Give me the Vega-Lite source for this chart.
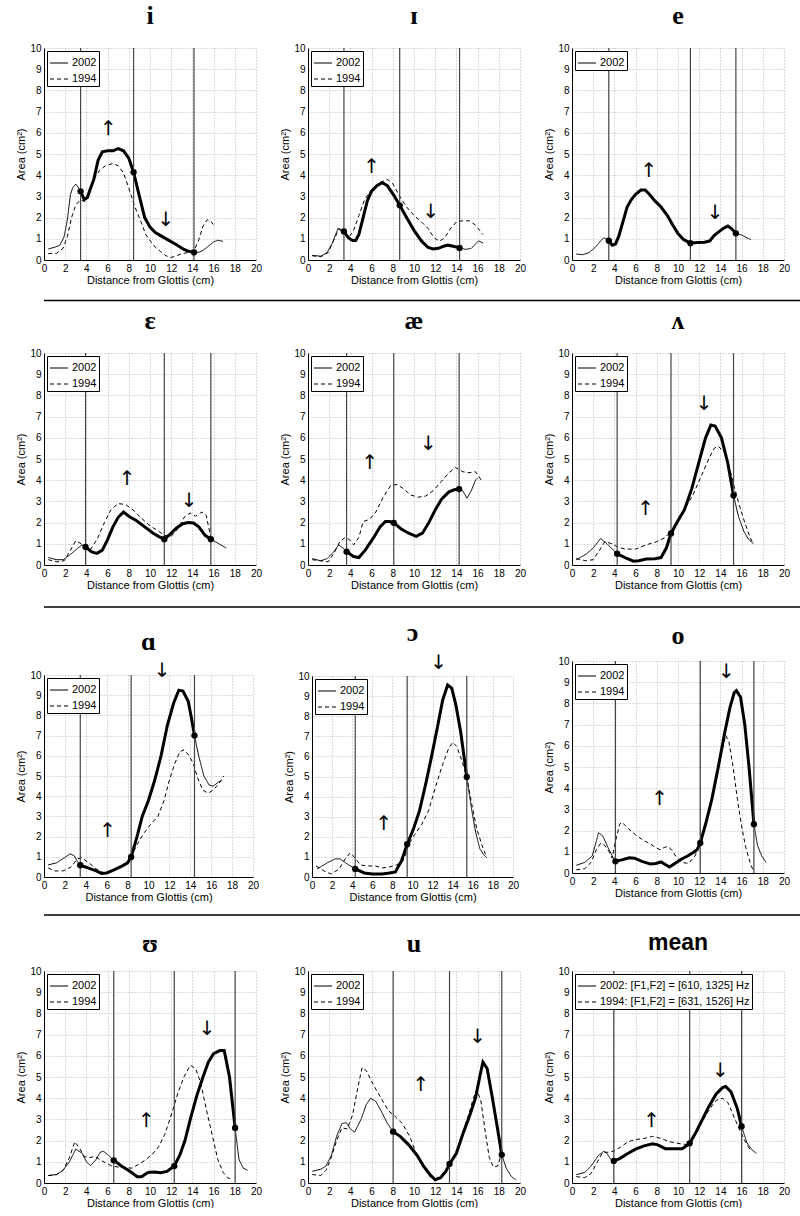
{
"$schema":"https://vega.github.io/schema/vega-lite/v6.json",
"background":"white",
"padding":{"left":15,"top":3,"right":0,"bottom":0},
"config":{
 "font":"Liberation Sans",
 "view":{"stroke":null},
 "axis":{"labelFont":"Liberation Sans","labelFontSize":10,"labelColor":"black","titleFont":"Liberation Sans","titleFontSize":11,"titleFontWeight":"normal","titleColor":"black","domainColor":"black","domainWidth":1,"ticks":false,"labelPadding":3,"labelFlush":false,"gridColor":"#999","gridDash":[1,2],"gridWidth":0.7,"gridOpacity":1},
 "axisX":{"titlePadding":1},
 "axisY":{"titlePadding":3},
 "legend":{"orient":"top-left","offset":3,"fillColor":"white","strokeColor":"black","padding":2,"labelFontSize":11,"labelFont":"Liberation Sans","labelColor":"black","symbolType":"stroke","symbolSize":324,"symbolStrokeWidth":1.2,"symbolStrokeColor":"black","rowPadding":1,"labelOffset":3},
 "title":{"font":"Liberation Serif, DejaVu Serif","fontSize":26,"fontWeight":"bold","frame":"group","anchor":"middle","offset":14,"color":"black"},
 "text":{"font":"DejaVu Sans","fontSize":20,"color":"black","opacity":0.99}
},
"datasets":{
"i":[
{"s":"2002","x":0.4,"a":0.52},{"s":"2002","x":1.0,"a":0.6},{"s":"2002","x":1.5,"a":0.7},{"s":"2002","x":1.9,"a":1.1},{"s":"2002","x":2.2,"a":1.9},{"s":"2002","x":2.5,"a":3.1},{"s":"2002","x":2.7,"a":3.4},{"s":"2002","x":3.0,"a":3.58},{"s":"2002","x":3.2,"a":3.45},{"s":"2002","x":3.45,"a":3.24},{"s":"2002","x":3.8,"a":2.85},{"s":"2002","x":4.1,"a":2.95},{"s":"2002","x":4.3,"a":3.25},{"s":"2002","x":4.7,"a":3.8},{"s":"2002","x":5.1,"a":4.7},{"s":"2002","x":5.5,"a":5.1},{"s":"2002","x":6.0,"a":5.15},{"s":"2002","x":6.5,"a":5.15},{"s":"2002","x":7.0,"a":5.25},{"s":"2002","x":7.5,"a":5.15},{"s":"2002","x":8.0,"a":4.8},{"s":"2002","x":8.45,"a":4.14},{"s":"2002","x":9.0,"a":3.0},{"s":"2002","x":9.5,"a":2.0},{"s":"2002","x":10.0,"a":1.55},{"s":"2002","x":10.5,"a":1.3},{"s":"2002","x":11.0,"a":1.15},{"s":"2002","x":11.7,"a":0.95},{"s":"2002","x":12.5,"a":0.72},{"s":"2002","x":13.2,"a":0.5},{"s":"2002","x":13.6,"a":0.42},{"s":"2002","x":14.15,"a":0.36},{"s":"2002","x":14.6,"a":0.36},{"s":"2002","x":15.0,"a":0.45},{"s":"2002","x":15.5,"a":0.65},{"s":"2002","x":16.0,"a":0.85},{"s":"2002","x":16.4,"a":0.93},{"s":"2002","x":16.9,"a":0.88},
{"s":"1994","x":0.4,"a":0.3},{"s":"1994","x":1.2,"a":0.32},{"s":"1994","x":1.8,"a":0.55},{"s":"1994","x":2.2,"a":1.1},{"s":"1994","x":2.6,"a":2.0},{"s":"1994","x":3.0,"a":2.6},{"s":"1994","x":3.45,"a":2.85},{"s":"1994","x":3.8,"a":2.75},{"s":"1994","x":4.2,"a":3.2},{"s":"1994","x":4.7,"a":3.8},{"s":"1994","x":5.2,"a":4.2},{"s":"1994","x":5.8,"a":4.45},{"s":"1994","x":6.5,"a":4.55},{"s":"1994","x":7.0,"a":4.45},{"s":"1994","x":7.5,"a":4.1},{"s":"1994","x":8.0,"a":3.4},{"s":"1994","x":8.5,"a":2.6},{"s":"1994","x":9.15,"a":1.8},{"s":"1994","x":9.6,"a":1.2},{"s":"1994","x":10.1,"a":0.85},{"s":"1994","x":10.5,"a":0.6},{"s":"1994","x":11.0,"a":0.4},{"s":"1994","x":11.5,"a":0.2},{"s":"1994","x":12.0,"a":0.12},{"s":"1994","x":12.5,"a":0.2},{"s":"1994","x":13.0,"a":0.3},{"s":"1994","x":13.6,"a":0.35},{"s":"1994","x":14.15,"a":0.42},{"s":"1994","x":14.6,"a":0.95},{"s":"1994","x":15.0,"a":1.6},{"s":"1994","x":15.4,"a":1.9},{"s":"1994","x":15.7,"a":1.85},{"s":"1994","x":16.1,"a":1.6},
{"s":"v","x":3.45,"a":3.24},{"s":"v","x":8.45,"a":4.14},{"s":"v","x":14.15,"a":0.36},
{"s":"t","x":6.08,"a":6.2,"t":"↑"},{"s":"t","x":11.5,"a":1.9,"t":"↓"}
],
"I":[
{"s":"2002","x":0.4,"a":0.22},{"s":"2002","x":1.2,"a":0.18},{"s":"2002","x":1.8,"a":0.35},{"s":"2002","x":2.3,"a":0.8},{"s":"2002","x":2.6,"a":1.2},{"s":"2002","x":2.85,"a":1.5},{"s":"2002","x":3.1,"a":1.45},{"s":"2002","x":3.39,"a":1.35},{"s":"2002","x":3.8,"a":1.05},{"s":"2002","x":4.2,"a":0.92},{"s":"2002","x":4.5,"a":0.92},{"s":"2002","x":4.8,"a":1.2},{"s":"2002","x":5.2,"a":2.0},{"s":"2002","x":5.6,"a":2.8},{"s":"2002","x":6.0,"a":3.25},{"s":"2002","x":6.5,"a":3.5},{"s":"2002","x":7.0,"a":3.65},{"s":"2002","x":7.5,"a":3.5},{"s":"2002","x":8.1,"a":3.05},{"s":"2002","x":8.65,"a":2.58},{"s":"2002","x":9.3,"a":2.0},{"s":"2002","x":10.0,"a":1.4},{"s":"2002","x":10.7,"a":0.9},{"s":"2002","x":11.3,"a":0.6},{"s":"2002","x":11.8,"a":0.52},{"s":"2002","x":12.3,"a":0.55},{"s":"2002","x":12.8,"a":0.65},{"s":"2002","x":13.2,"a":0.7},{"s":"2002","x":13.7,"a":0.65},{"s":"2002","x":14.3,"a":0.57},{"s":"2002","x":14.9,"a":0.5},{"s":"2002","x":15.4,"a":0.55},{"s":"2002","x":15.8,"a":0.75},{"s":"2002","x":16.1,"a":0.9},{"s":"2002","x":16.5,"a":0.8},
{"s":"1994","x":0.4,"a":0.2},{"s":"1994","x":1.2,"a":0.15},{"s":"1994","x":1.9,"a":0.35},{"s":"1994","x":2.4,"a":0.9},{"s":"1994","x":2.9,"a":1.45},{"s":"1994","x":3.39,"a":1.3},{"s":"1994","x":3.9,"a":1.1},{"s":"1994","x":4.3,"a":1.4},{"s":"1994","x":4.8,"a":2.1},{"s":"1994","x":5.3,"a":2.8},{"s":"1994","x":5.9,"a":3.25},{"s":"1994","x":6.5,"a":3.55},{"s":"1994","x":7.0,"a":3.7},{"s":"1994","x":7.5,"a":3.8},{"s":"1994","x":8.0,"a":3.6},{"s":"1994","x":8.65,"a":3.0},{"s":"1994","x":9.3,"a":2.5},{"s":"1994","x":10.0,"a":2.1},{"s":"1994","x":10.7,"a":1.8},{"s":"1994","x":11.3,"a":1.5},{"s":"1994","x":11.9,"a":1.05},{"s":"1994","x":12.4,"a":0.88},{"s":"1994","x":12.9,"a":1.05},{"s":"1994","x":13.4,"a":1.45},{"s":"1994","x":14.0,"a":1.8},{"s":"1994","x":14.6,"a":1.85},{"s":"1994","x":15.2,"a":1.85},{"s":"1994","x":15.8,"a":1.65},{"s":"1994","x":16.5,"a":1.2},
{"s":"v","x":3.39,"a":1.35},{"s":"v","x":8.65,"a":2.58},{"s":"v","x":14.3,"a":0.57},
{"s":"t","x":6.0,"a":4.4,"t":"↑"},{"s":"t","x":11.6,"a":2.25,"t":"↓"}
],
"e":[
{"s":"2002","x":0.4,"a":0.28},{"s":"2002","x":1.0,"a":0.25},{"s":"2002","x":1.6,"a":0.35},{"s":"2002","x":2.2,"a":0.6},{"s":"2002","x":2.7,"a":0.9},{"s":"2002","x":3.0,"a":1.05},{"s":"2002","x":3.2,"a":1.0},{"s":"2002","x":3.47,"a":0.91},{"s":"2002","x":3.8,"a":0.7},{"s":"2002","x":4.1,"a":0.75},{"s":"2002","x":4.4,"a":1.1},{"s":"2002","x":4.8,"a":1.8},{"s":"2002","x":5.2,"a":2.5},{"s":"2002","x":5.6,"a":2.85},{"s":"2002","x":6.0,"a":3.1},{"s":"2002","x":6.5,"a":3.3},{"s":"2002","x":6.9,"a":3.3},{"s":"2002","x":7.3,"a":3.1},{"s":"2002","x":7.8,"a":2.8},{"s":"2002","x":8.4,"a":2.5},{"s":"2002","x":9.0,"a":2.1},{"s":"2002","x":9.5,"a":1.65},{"s":"2002","x":10.0,"a":1.25},{"s":"2002","x":10.5,"a":0.98},{"s":"2002","x":11.17,"a":0.79},{"s":"2002","x":11.8,"a":0.82},{"s":"2002","x":12.5,"a":0.84},{"s":"2002","x":13.0,"a":0.9},{"s":"2002","x":13.4,"a":1.15},{"s":"2002","x":13.9,"a":1.35},{"s":"2002","x":14.3,"a":1.5},{"s":"2002","x":14.7,"a":1.6},{"s":"2002","x":15.0,"a":1.5},{"s":"2002","x":15.46,"a":1.26},{"s":"2002","x":16.0,"a":1.18},{"s":"2002","x":16.5,"a":1.05},{"s":"2002","x":16.9,"a":0.95},
{"s":"v","x":3.47,"a":0.91},{"s":"v","x":11.17,"a":0.79},{"s":"v","x":15.46,"a":1.26},
{"s":"t","x":7.25,"a":4.2,"t":"↑"},{"s":"t","x":13.5,"a":2.2,"t":"↓"}
],
"E":[
{"s":"2002","x":0.4,"a":0.35},{"s":"2002","x":1.2,"a":0.25},{"s":"2002","x":1.8,"a":0.25},{"s":"2002","x":2.5,"a":0.5},{"s":"2002","x":3.2,"a":0.8},{"s":"2002","x":3.6,"a":0.95},{"s":"2002","x":3.92,"a":0.85},{"s":"2002","x":4.5,"a":0.62},{"s":"2002","x":5.0,"a":0.55},{"s":"2002","x":5.5,"a":0.7},{"s":"2002","x":6.0,"a":1.2},{"s":"2002","x":6.5,"a":1.8},{"s":"2002","x":7.0,"a":2.25},{"s":"2002","x":7.5,"a":2.5},{"s":"2002","x":8.0,"a":2.3},{"s":"2002","x":8.7,"a":2.1},{"s":"2002","x":9.5,"a":1.8},{"s":"2002","x":10.3,"a":1.5},{"s":"2002","x":10.8,"a":1.35},{"s":"2002","x":11.35,"a":1.22},{"s":"2002","x":11.9,"a":1.45},{"s":"2002","x":12.5,"a":1.75},{"s":"2002","x":13.1,"a":1.95},{"s":"2002","x":13.6,"a":2.0},{"s":"2002","x":14.1,"a":1.98},{"s":"2002","x":14.6,"a":1.8},{"s":"2002","x":15.2,"a":1.4},{"s":"2002","x":15.74,"a":1.22},{"s":"2002","x":16.5,"a":1.0},{"s":"2002","x":17.2,"a":0.8},
{"s":"1994","x":0.4,"a":0.25},{"s":"1994","x":1.2,"a":0.15},{"s":"1994","x":1.9,"a":0.2},{"s":"1994","x":2.5,"a":0.7},{"s":"1994","x":3.0,"a":1.15},{"s":"1994","x":3.5,"a":1.0},{"s":"1994","x":3.92,"a":0.8},{"s":"1994","x":4.4,"a":0.75},{"s":"1994","x":5.0,"a":1.2},{"s":"1994","x":5.7,"a":2.0},{"s":"1994","x":6.3,"a":2.6},{"s":"1994","x":7.0,"a":2.9},{"s":"1994","x":7.7,"a":2.85},{"s":"1994","x":8.4,"a":2.6},{"s":"1994","x":9.2,"a":2.2},{"s":"1994","x":10.0,"a":1.85},{"s":"1994","x":10.8,"a":1.6},{"s":"1994","x":11.35,"a":1.4},{"s":"1994","x":12.0,"a":1.35},{"s":"1994","x":12.6,"a":1.7},{"s":"1994","x":13.3,"a":2.3},{"s":"1994","x":13.8,"a":2.45},{"s":"1994","x":14.3,"a":2.3},{"s":"1994","x":14.9,"a":2.5},{"s":"1994","x":15.3,"a":2.35},{"s":"1994","x":15.74,"a":1.3},
{"s":"v","x":3.92,"a":0.85},{"s":"v","x":11.35,"a":1.22},{"s":"v","x":15.74,"a":1.22},
{"s":"t","x":7.84,"a":4.07,"t":"↑"},{"s":"t","x":13.7,"a":3.0,"t":"↓"}
],
"ae":[
{"s":"2002","x":0.4,"a":0.3},{"s":"2002","x":1.2,"a":0.2},{"s":"2002","x":1.8,"a":0.3},{"s":"2002","x":2.4,"a":0.6},{"s":"2002","x":2.9,"a":0.95},{"s":"2002","x":3.3,"a":0.8},{"s":"2002","x":3.64,"a":0.63},{"s":"2002","x":4.3,"a":0.4},{"s":"2002","x":4.8,"a":0.35},{"s":"2002","x":5.4,"a":0.7},{"s":"2002","x":6.2,"a":1.3},{"s":"2002","x":6.8,"a":1.8},{"s":"2002","x":7.3,"a":2.05},{"s":"2002","x":7.7,"a":2.05},{"s":"2002","x":8.09,"a":1.99},{"s":"2002","x":8.8,"a":1.7},{"s":"2002","x":9.5,"a":1.5},{"s":"2002","x":10.2,"a":1.35},{"s":"2002","x":10.8,"a":1.5},{"s":"2002","x":11.4,"a":2.0},{"s":"2002","x":12.0,"a":2.6},{"s":"2002","x":12.6,"a":3.1},{"s":"2002","x":13.3,"a":3.45},{"s":"2002","x":13.8,"a":3.55},{"s":"2002","x":14.26,"a":3.58},{"s":"2002","x":14.6,"a":3.5},{"s":"2002","x":15.0,"a":3.15},{"s":"2002","x":15.4,"a":3.5},{"s":"2002","x":15.8,"a":4.0},{"s":"2002","x":16.0,"a":4.1},
{"s":"1994","x":0.4,"a":0.25},{"s":"1994","x":1.2,"a":0.2},{"s":"1994","x":1.9,"a":0.15},{"s":"1994","x":2.5,"a":0.6},{"s":"1994","x":3.0,"a":1.1},{"s":"1994","x":3.5,"a":1.3},{"s":"1994","x":3.9,"a":1.2},{"s":"1994","x":4.3,"a":0.95},{"s":"1994","x":4.8,"a":1.3},{"s":"1994","x":5.2,"a":2.05},{"s":"1994","x":5.8,"a":2.15},{"s":"1994","x":6.4,"a":2.5},{"s":"1994","x":7.1,"a":3.2},{"s":"1994","x":7.8,"a":3.75},{"s":"1994","x":8.4,"a":3.8},{"s":"1994","x":9.0,"a":3.6},{"s":"1994","x":9.7,"a":3.3},{"s":"1994","x":10.4,"a":3.2},{"s":"1994","x":11.1,"a":3.25},{"s":"1994","x":11.8,"a":3.5},{"s":"1994","x":12.6,"a":3.95},{"s":"1994","x":13.3,"a":4.35},{"s":"1994","x":13.9,"a":4.6},{"s":"1994","x":14.6,"a":4.4},{"s":"1994","x":15.2,"a":4.35},{"s":"1994","x":15.8,"a":4.4},{"s":"1994","x":16.1,"a":4.2},{"s":"1994","x":16.4,"a":3.95},
{"s":"v","x":3.64,"a":0.63},{"s":"v","x":8.09,"a":1.99},{"s":"v","x":14.26,"a":3.58},
{"s":"t","x":5.83,"a":4.8,"t":"↑"},{"s":"t","x":11.35,"a":5.7,"t":"↓"}
],
"V":[
{"s":"2002","x":0.4,"a":0.25},{"s":"2002","x":1.3,"a":0.5},{"s":"2002","x":2.0,"a":0.8},{"s":"2002","x":2.7,"a":1.25},{"s":"2002","x":3.2,"a":1.05},{"s":"2002","x":3.8,"a":0.75},{"s":"2002","x":4.26,"a":0.53},{"s":"2002","x":5.0,"a":0.35},{"s":"2002","x":5.8,"a":0.18},{"s":"2002","x":6.3,"a":0.2},{"s":"2002","x":7.0,"a":0.28},{"s":"2002","x":7.8,"a":0.3},{"s":"2002","x":8.4,"a":0.35},{"s":"2002","x":8.9,"a":0.8},{"s":"2002","x":9.34,"a":1.49},{"s":"2002","x":9.9,"a":2.0},{"s":"2002","x":10.6,"a":2.6},{"s":"2002","x":11.3,"a":3.6},{"s":"2002","x":12.0,"a":4.9},{"s":"2002","x":12.6,"a":6.0},{"s":"2002","x":13.1,"a":6.6},{"s":"2002","x":13.5,"a":6.55},{"s":"2002","x":14.1,"a":6.0},{"s":"2002","x":14.7,"a":4.8},{"s":"2002","x":15.24,"a":3.28},{"s":"2002","x":15.7,"a":2.3},{"s":"2002","x":16.2,"a":1.6},{"s":"2002","x":16.6,"a":1.25},{"s":"2002","x":17.1,"a":1.0},
{"s":"1994","x":0.4,"a":0.3},{"s":"1994","x":1.3,"a":0.2},{"s":"1994","x":2.0,"a":0.25},{"s":"1994","x":2.6,"a":0.7},{"s":"1994","x":3.1,"a":1.1},{"s":"1994","x":3.8,"a":1.0},{"s":"1994","x":4.3,"a":0.85},{"s":"1994","x":5.0,"a":0.75},{"s":"1994","x":6.0,"a":0.75},{"s":"1994","x":7.0,"a":0.95},{"s":"1994","x":8.0,"a":1.1},{"s":"1994","x":8.8,"a":1.3},{"s":"1994","x":9.34,"a":1.6},{"s":"1994","x":9.9,"a":2.0},{"s":"1994","x":10.6,"a":2.6},{"s":"1994","x":11.4,"a":3.3},{"s":"1994","x":12.2,"a":4.2},{"s":"1994","x":12.9,"a":5.0},{"s":"1994","x":13.4,"a":5.5},{"s":"1994","x":13.8,"a":5.6},{"s":"1994","x":14.4,"a":5.3},{"s":"1994","x":14.9,"a":4.5},{"s":"1994","x":15.3,"a":3.7},{"s":"1994","x":15.8,"a":2.8},{"s":"1994","x":16.3,"a":2.0},{"s":"1994","x":16.8,"a":1.3},{"s":"1994","x":17.0,"a":1.1},
{"s":"v","x":4.26,"a":0.53},{"s":"v","x":9.34,"a":1.49},{"s":"v","x":15.24,"a":3.28},
{"s":"t","x":6.94,"a":2.65,"t":"↑"},{"s":"t","x":12.46,"a":7.6,"t":"↓"}
],
"A":[
{"s":"2002","x":0.4,"a":0.6},{"s":"2002","x":1.2,"a":0.7},{"s":"2002","x":1.8,"a":0.9},{"s":"2002","x":2.5,"a":1.15},{"s":"2002","x":2.9,"a":1.05},{"s":"2002","x":3.2,"a":0.75},{"s":"2002","x":3.47,"a":0.58},{"s":"2002","x":4.2,"a":0.45},{"s":"2002","x":5.0,"a":0.3},{"s":"2002","x":5.5,"a":0.18},{"s":"2002","x":6.0,"a":0.2},{"s":"2002","x":6.7,"a":0.35},{"s":"2002","x":7.5,"a":0.55},{"s":"2002","x":8.0,"a":0.7},{"s":"2002","x":8.34,"a":0.99},{"s":"2002","x":8.9,"a":2.0},{"s":"2002","x":9.4,"a":3.0},{"s":"2002","x":10.0,"a":3.8},{"s":"2002","x":10.6,"a":4.8},{"s":"2002","x":11.2,"a":6.0},{"s":"2002","x":11.8,"a":7.5},{"s":"2002","x":12.4,"a":8.6},{"s":"2002","x":12.9,"a":9.25},{"s":"2002","x":13.3,"a":9.2},{"s":"2002","x":13.8,"a":8.7},{"s":"2002","x":14.1,"a":7.9},{"s":"2002","x":14.4,"a":7.0},{"s":"2002","x":14.8,"a":6.0},{"s":"2002","x":15.3,"a":5.0},{"s":"2002","x":15.8,"a":4.55},{"s":"2002","x":16.2,"a":4.5},{"s":"2002","x":16.7,"a":4.7},{"s":"2002","x":17.0,"a":4.75},
{"s":"1994","x":0.4,"a":0.45},{"s":"1994","x":1.0,"a":0.3},{"s":"1994","x":1.8,"a":0.3},{"s":"1994","x":2.6,"a":0.5},{"s":"1994","x":3.2,"a":0.9},{"s":"1994","x":3.6,"a":0.95},{"s":"1994","x":4.3,"a":0.7},{"s":"1994","x":5.0,"a":0.4},{"s":"1994","x":5.7,"a":0.2},{"s":"1994","x":6.5,"a":0.3},{"s":"1994","x":7.3,"a":0.5},{"s":"1994","x":8.0,"a":0.75},{"s":"1994","x":8.34,"a":1.0},{"s":"1994","x":8.9,"a":1.6},{"s":"1994","x":9.6,"a":2.2},{"s":"1994","x":10.2,"a":2.6},{"s":"1994","x":10.9,"a":3.0},{"s":"1994","x":11.5,"a":3.8},{"s":"1994","x":12.0,"a":4.8},{"s":"1994","x":12.5,"a":5.6},{"s":"1994","x":13.0,"a":6.2},{"s":"1994","x":13.4,"a":6.3},{"s":"1994","x":13.9,"a":6.0},{"s":"1994","x":14.3,"a":5.6},{"s":"1994","x":14.7,"a":4.9},{"s":"1994","x":15.2,"a":4.3},{"s":"1994","x":15.7,"a":4.15},{"s":"1994","x":16.2,"a":4.3},{"s":"1994","x":16.7,"a":4.6},{"s":"1994","x":17.2,"a":5.0},
{"s":"v","x":3.47,"a":0.58},{"s":"v","x":8.34,"a":0.99},{"s":"v","x":14.4,"a":7.0},
{"s":"t","x":6.1,"a":2.3,"t":"↑"},{"s":"t","x":11.3,"a":10.2,"t":"↓"}
],
"O":[
{"s":"2002","x":0.5,"a":0.4},{"s":"2002","x":1.5,"a":0.7},{"s":"2002","x":2.3,"a":0.9},{"s":"2002","x":2.8,"a":0.9},{"s":"2002","x":3.5,"a":0.65},{"s":"2002","x":4.3,"a":0.4},{"s":"2002","x":5.2,"a":0.2},{"s":"2002","x":6.0,"a":0.15},{"s":"2002","x":7.0,"a":0.15},{"s":"2002","x":7.7,"a":0.2},{"s":"2002","x":8.3,"a":0.25},{"s":"2002","x":8.9,"a":0.8},{"s":"2002","x":9.47,"a":1.63},{"s":"2002","x":10.1,"a":2.4},{"s":"2002","x":10.7,"a":3.3},{"s":"2002","x":11.3,"a":4.6},{"s":"2002","x":11.9,"a":6.0},{"s":"2002","x":12.5,"a":7.5},{"s":"2002","x":13.0,"a":8.8},{"s":"2002","x":13.5,"a":9.55},{"s":"2002","x":13.9,"a":9.4},{"s":"2002","x":14.3,"a":8.6},{"s":"2002","x":14.8,"a":7.2},{"s":"2002","x":15.4,"a":4.98},{"s":"2002","x":15.9,"a":3.3},{"s":"2002","x":16.3,"a":2.2},{"s":"2002","x":16.7,"a":1.4},{"s":"2002","x":17.1,"a":1.1},{"s":"2002","x":17.4,"a":0.95},
{"s":"1994","x":0.4,"a":0.55},{"s":"1994","x":1.2,"a":0.3},{"s":"1994","x":1.9,"a":0.15},{"s":"1994","x":2.7,"a":0.4},{"s":"1994","x":3.3,"a":0.9},{"s":"1994","x":3.8,"a":1.2},{"s":"1994","x":4.2,"a":1.0},{"s":"1994","x":4.8,"a":0.6},{"s":"1994","x":5.5,"a":0.55},{"s":"1994","x":6.3,"a":0.55},{"s":"1994","x":7.0,"a":0.45},{"s":"1994","x":7.7,"a":0.5},{"s":"1994","x":8.4,"a":0.6},{"s":"1994","x":9.0,"a":0.75},{"s":"1994","x":9.3,"a":1.1},{"s":"1994","x":9.6,"a":1.6},{"s":"1994","x":10.2,"a":2.1},{"s":"1994","x":10.9,"a":2.6},{"s":"1994","x":11.6,"a":3.3},{"s":"1994","x":12.3,"a":4.5},{"s":"1994","x":13.0,"a":5.6},{"s":"1994","x":13.6,"a":6.4},{"s":"1994","x":14.0,"a":6.7},{"s":"1994","x":14.4,"a":6.5},{"s":"1994","x":14.9,"a":5.8},{"s":"1994","x":15.4,"a":4.98},{"s":"1994","x":15.9,"a":3.6},{"s":"1994","x":16.4,"a":2.4},{"s":"1994","x":16.9,"a":1.6},{"s":"1994","x":17.2,"a":1.2},{"s":"1994","x":17.4,"a":1.0},
{"s":"v","x":4.3,"a":0.4},{"s":"v","x":9.47,"a":1.63},{"s":"v","x":15.4,"a":4.98},
{"s":"t","x":7.15,"a":2.66,"t":"↑"},{"s":"t","x":12.6,"a":10.65,"t":"↓"}
],
"o":[
{"s":"2002","x":0.4,"a":0.36},{"s":"2002","x":1.2,"a":0.5},{"s":"2002","x":1.9,"a":0.8},{"s":"2002","x":2.3,"a":1.5},{"s":"2002","x":2.5,"a":1.9},{"s":"2002","x":2.9,"a":1.75},{"s":"2002","x":3.4,"a":1.2},{"s":"2002","x":3.8,"a":0.8},{"s":"2002","x":4.1,"a":0.55},{"s":"2002","x":4.7,"a":0.62},{"s":"2002","x":5.4,"a":0.72},{"s":"2002","x":5.9,"a":0.7},{"s":"2002","x":6.6,"a":0.55},{"s":"2002","x":7.4,"a":0.42},{"s":"2002","x":7.9,"a":0.45},{"s":"2002","x":8.4,"a":0.52},{"s":"2002","x":8.8,"a":0.4},{"s":"2002","x":9.2,"a":0.28},{"s":"2002","x":9.7,"a":0.45},{"s":"2002","x":10.3,"a":0.65},{"s":"2002","x":10.9,"a":0.8},{"s":"2002","x":11.4,"a":0.95},{"s":"2002","x":11.8,"a":1.1},{"s":"2002","x":12.1,"a":1.42},{"s":"2002","x":12.6,"a":2.3},{"s":"2002","x":13.2,"a":3.5},{"s":"2002","x":13.8,"a":5.0},{"s":"2002","x":14.4,"a":6.6},{"s":"2002","x":14.9,"a":7.8},{"s":"2002","x":15.3,"a":8.5},{"s":"2002","x":15.5,"a":8.6},{"s":"2002","x":15.9,"a":8.3},{"s":"2002","x":16.3,"a":7.0},{"s":"2002","x":16.7,"a":5.0},{"s":"2002","x":17.16,"a":2.3},{"s":"2002","x":17.5,"a":1.3},{"s":"2002","x":17.9,"a":0.8},{"s":"2002","x":18.3,"a":0.5},
{"s":"1994","x":0.4,"a":0.15},{"s":"1994","x":1.2,"a":0.2},{"s":"1994","x":1.8,"a":0.5},{"s":"1994","x":2.3,"a":1.1},{"s":"1994","x":2.7,"a":1.4},{"s":"1994","x":3.1,"a":1.3},{"s":"1994","x":3.5,"a":1.0},{"s":"1994","x":3.8,"a":0.7},{"s":"1994","x":4.1,"a":1.5},{"s":"1994","x":4.5,"a":2.3},{"s":"1994","x":4.7,"a":2.4},{"s":"1994","x":5.3,"a":2.1},{"s":"1994","x":6.0,"a":1.8},{"s":"1994","x":6.7,"a":1.55},{"s":"1994","x":7.3,"a":1.4},{"s":"1994","x":7.9,"a":1.2},{"s":"1994","x":8.3,"a":1.1},{"s":"1994","x":8.7,"a":1.2},{"s":"1994","x":9.0,"a":1.25},{"s":"1994","x":9.4,"a":1.1},{"s":"1994","x":9.9,"a":0.7},{"s":"1994","x":10.4,"a":0.5},{"s":"1994","x":11.0,"a":0.45},{"s":"1994","x":11.6,"a":0.8},{"s":"1994","x":12.1,"a":1.4},{"s":"1994","x":12.6,"a":2.4},{"s":"1994","x":13.3,"a":3.7},{"s":"1994","x":13.9,"a":5.2},{"s":"1994","x":14.5,"a":6.5},{"s":"1994","x":14.8,"a":6.2},{"s":"1994","x":15.2,"a":5.0},{"s":"1994","x":15.6,"a":3.5},{"s":"1994","x":16.0,"a":2.2},{"s":"1994","x":16.4,"a":1.2},{"s":"1994","x":16.8,"a":0.5},{"s":"1994","x":17.1,"a":0.1},
{"s":"v","x":4.1,"a":0.55},{"s":"v","x":12.1,"a":1.42},{"s":"v","x":17.16,"a":2.3},
{"s":"t","x":8.27,"a":3.5,"t":"↑"},{"s":"t","x":14.57,"a":9.48,"t":"↓"}
],
"U":[
{"s":"2002","x":0.4,"a":0.35},{"s":"2002","x":1.2,"a":0.4},{"s":"2002","x":1.8,"a":0.6},{"s":"2002","x":2.4,"a":1.0},{"s":"2002","x":3.0,"a":1.6},{"s":"2002","x":3.6,"a":1.4},{"s":"2002","x":4.0,"a":1.0},{"s":"2002","x":4.4,"a":0.82},{"s":"2002","x":4.9,"a":1.1},{"s":"2002","x":5.3,"a":1.45},{"s":"2002","x":5.6,"a":1.5},{"s":"2002","x":6.1,"a":1.3},{"s":"2002","x":6.58,"a":1.07},{"s":"2002","x":7.3,"a":0.8},{"s":"2002","x":8.1,"a":0.55},{"s":"2002","x":8.8,"a":0.3},{"s":"2002","x":9.2,"a":0.3},{"s":"2002","x":9.8,"a":0.5},{"s":"2002","x":10.4,"a":0.52},{"s":"2002","x":11.0,"a":0.48},{"s":"2002","x":11.6,"a":0.55},{"s":"2002","x":12.29,"a":0.8},{"s":"2002","x":12.8,"a":1.3},{"s":"2002","x":13.3,"a":2.0},{"s":"2002","x":13.8,"a":3.0},{"s":"2002","x":14.4,"a":4.1},{"s":"2002","x":15.0,"a":5.0},{"s":"2002","x":15.5,"a":5.7},{"s":"2002","x":16.0,"a":6.1},{"s":"2002","x":16.6,"a":6.25},{"s":"2002","x":17.0,"a":6.25},{"s":"2002","x":17.5,"a":5.0},{"s":"2002","x":18.03,"a":2.6},{"s":"2002","x":18.4,"a":1.1},{"s":"2002","x":18.8,"a":0.7},{"s":"2002","x":19.2,"a":0.6},
{"s":"1994","x":0.4,"a":0.35},{"s":"1994","x":1.2,"a":0.4},{"s":"1994","x":1.8,"a":0.6},{"s":"1994","x":2.4,"a":1.2},{"s":"1994","x":2.9,"a":1.95},{"s":"1994","x":3.4,"a":1.6},{"s":"1994","x":3.8,"a":1.25},{"s":"1994","x":4.3,"a":1.2},{"s":"1994","x":4.8,"a":1.25},{"s":"1994","x":5.3,"a":1.1},{"s":"1994","x":5.8,"a":0.95},{"s":"1994","x":6.4,"a":0.8},{"s":"1994","x":7.0,"a":0.75},{"s":"1994","x":7.7,"a":0.72},{"s":"1994","x":8.3,"a":0.7},{"s":"1994","x":9.0,"a":0.9},{"s":"1994","x":9.6,"a":1.1},{"s":"1994","x":10.2,"a":1.35},{"s":"1994","x":10.8,"a":1.7},{"s":"1994","x":11.4,"a":2.3},{"s":"1994","x":12.0,"a":3.2},{"s":"1994","x":12.6,"a":4.2},{"s":"1994","x":13.2,"a":5.0},{"s":"1994","x":13.8,"a":5.55},{"s":"1994","x":14.3,"a":5.4},{"s":"1994","x":14.8,"a":4.7},{"s":"1994","x":15.3,"a":3.5},{"s":"1994","x":15.9,"a":2.2},{"s":"1994","x":16.4,"a":1.1},{"s":"1994","x":16.9,"a":0.5},{"s":"1994","x":17.3,"a":0.25},{"s":"1994","x":17.6,"a":0.2},
{"s":"v","x":6.58,"a":1.07},{"s":"v","x":12.29,"a":0.8},{"s":"v","x":18.03,"a":2.6},
{"s":"t","x":9.65,"a":2.92,"t":"↑"},{"s":"t","x":15.4,"a":7.25,"t":"↓"}
],
"u":[
{"s":"2002","x":0.4,"a":0.55},{"s":"2002","x":1.2,"a":0.65},{"s":"2002","x":1.7,"a":0.8},{"s":"2002","x":2.2,"a":1.3},{"s":"2002","x":2.7,"a":2.2},{"s":"2002","x":3.2,"a":2.8},{"s":"2002","x":3.6,"a":2.85},{"s":"2002","x":4.0,"a":2.55},{"s":"2002","x":4.4,"a":2.4},{"s":"2002","x":5.0,"a":3.0},{"s":"2002","x":5.5,"a":3.7},{"s":"2002","x":5.9,"a":4.0},{"s":"2002","x":6.4,"a":3.85},{"s":"2002","x":7.0,"a":3.3},{"s":"2002","x":7.5,"a":2.8},{"s":"2002","x":8.03,"a":2.42},{"s":"2002","x":8.7,"a":2.2},{"s":"2002","x":9.5,"a":1.8},{"s":"2002","x":10.3,"a":1.3},{"s":"2002","x":10.9,"a":0.8},{"s":"2002","x":11.5,"a":0.4},{"s":"2002","x":12.0,"a":0.15},{"s":"2002","x":12.5,"a":0.25},{"s":"2002","x":13.0,"a":0.55},{"s":"2002","x":13.35,"a":0.9},{"s":"2002","x":14.0,"a":1.4},{"s":"2002","x":14.6,"a":2.3},{"s":"2002","x":15.2,"a":3.1},{"s":"2002","x":15.8,"a":4.0},{"s":"2002","x":16.2,"a":5.0},{"s":"2002","x":16.5,"a":5.7},{"s":"2002","x":16.9,"a":5.4},{"s":"2002","x":17.4,"a":4.0},{"s":"2002","x":17.9,"a":2.5},{"s":"2002","x":18.28,"a":1.33},{"s":"2002","x":18.7,"a":0.7},{"s":"2002","x":19.2,"a":0.3},{"s":"2002","x":19.6,"a":0.15},
{"s":"1994","x":0.4,"a":0.4},{"s":"1994","x":1.2,"a":0.35},{"s":"1994","x":1.7,"a":0.6},{"s":"1994","x":2.2,"a":1.2},{"s":"1994","x":2.7,"a":2.0},{"s":"1994","x":3.2,"a":2.6},{"s":"1994","x":3.7,"a":2.55},{"s":"1994","x":4.2,"a":3.2},{"s":"1994","x":4.7,"a":4.5},{"s":"1994","x":5.1,"a":5.45},{"s":"1994","x":5.5,"a":5.3},{"s":"1994","x":6.2,"a":4.6},{"s":"1994","x":6.9,"a":4.0},{"s":"1994","x":7.6,"a":3.4},{"s":"1994","x":8.2,"a":3.15},{"s":"1994","x":8.9,"a":2.8},{"s":"1994","x":9.6,"a":2.2},{"s":"1994","x":10.2,"a":1.4},{"s":"1994","x":10.8,"a":0.8},{"s":"1994","x":11.5,"a":0.3},{"s":"1994","x":12.0,"a":0.2},{"s":"1994","x":12.5,"a":0.3},{"s":"1994","x":13.0,"a":0.6},{"s":"1994","x":13.5,"a":1.0},{"s":"1994","x":14.1,"a":1.6},{"s":"1994","x":14.6,"a":2.4},{"s":"1994","x":15.2,"a":3.3},{"s":"1994","x":15.6,"a":4.0},{"s":"1994","x":15.9,"a":4.4},{"s":"1994","x":16.3,"a":3.9},{"s":"1994","x":16.7,"a":2.5},{"s":"1994","x":17.1,"a":1.2},{"s":"1994","x":17.5,"a":0.75},{"s":"1994","x":17.9,"a":0.8},{"s":"1994","x":18.2,"a":1.3},
{"s":"v","x":8.03,"a":2.42},{"s":"v","x":13.35,"a":0.9},{"s":"v","x":18.28,"a":1.33},
{"s":"t","x":10.66,"a":4.6,"t":"↑"},{"s":"t","x":16.0,"a":6.87,"t":"↓"}
],
"mean":[
{"s":"2002","x":0.4,"a":0.39},{"s":"2002","x":1.2,"a":0.5},{"s":"2002","x":1.8,"a":0.8},{"s":"2002","x":2.5,"a":1.3},{"s":"2002","x":3.0,"a":1.5},{"s":"2002","x":3.3,"a":1.4},{"s":"2002","x":3.6,"a":1.15},{"s":"2002","x":3.94,"a":1.04},{"s":"2002","x":4.5,"a":1.15},{"s":"2002","x":5.3,"a":1.4},{"s":"2002","x":6.0,"a":1.6},{"s":"2002","x":6.8,"a":1.75},{"s":"2002","x":7.6,"a":1.85},{"s":"2002","x":8.1,"a":1.8},{"s":"2002","x":8.8,"a":1.62},{"s":"2002","x":9.6,"a":1.62},{"s":"2002","x":10.4,"a":1.62},{"s":"2002","x":11.1,"a":1.87},{"s":"2002","x":11.7,"a":2.4},{"s":"2002","x":12.3,"a":3.0},{"s":"2002","x":12.9,"a":3.6},{"s":"2002","x":13.6,"a":4.2},{"s":"2002","x":14.2,"a":4.5},{"s":"2002","x":14.5,"a":4.55},{"s":"2002","x":15.0,"a":4.3},{"s":"2002","x":15.6,"a":3.5},{"s":"2002","x":16.0,"a":2.67},{"s":"2002","x":16.5,"a":1.9},{"s":"2002","x":17.0,"a":1.55},{"s":"2002","x":17.4,"a":1.4},
{"s":"1994","x":0.4,"a":0.3},{"s":"1994","x":1.2,"a":0.25},{"s":"1994","x":1.8,"a":0.45},{"s":"1994","x":2.4,"a":1.0},{"s":"1994","x":2.9,"a":1.45},{"s":"1994","x":3.4,"a":1.45},{"s":"1994","x":3.94,"a":1.5},{"s":"1994","x":4.6,"a":1.7},{"s":"1994","x":5.3,"a":1.95},{"s":"1994","x":6.0,"a":2.05},{"s":"1994","x":6.8,"a":2.1},{"s":"1994","x":7.6,"a":2.2},{"s":"1994","x":8.4,"a":2.1},{"s":"1994","x":9.2,"a":1.95},{"s":"1994","x":10.2,"a":1.85},{"s":"1994","x":11.1,"a":1.8},{"s":"1994","x":11.8,"a":2.4},{"s":"1994","x":12.4,"a":3.0},{"s":"1994","x":13.0,"a":3.5},{"s":"1994","x":13.6,"a":3.9},{"s":"1994","x":14.2,"a":4.0},{"s":"1994","x":14.7,"a":3.8},{"s":"1994","x":15.3,"a":3.1},{"s":"1994","x":15.9,"a":2.4},{"s":"1994","x":16.4,"a":1.9},{"s":"1994","x":16.9,"a":1.5},
{"s":"v","x":3.94,"a":1.04},{"s":"v","x":11.1,"a":1.87},{"s":"v","x":16.0,"a":2.67},
{"s":"t","x":7.5,"a":2.93,"t":"↑"},{"s":"t","x":14.0,"a":5.3,"t":"↓"}
]
},
"spacing":0,
"bounds":"full",
"resolve":{"scale":{"x":"independent","y":"independent","strokeDash":"independent"},"legend":{"strokeDash":"independent"}},
"vconcat":[
{"hconcat":[
 {"title":{"text":"i"},"width":212,"height":212,"data":{"name":"i"},
  "encoding":{"x":{"field":"x","type":"quantitative","scale":{"domain":[0,20]},"axis":{"title":"Distance from Glottis (cm)","tickCount":10}},"y":{"field":"a","type":"quantitative","scale":{"domain":[0,10]},"axis":{"title":"Area (cm²)","tickCount":10}}},
  "layer":[
   {"transform":[{"filter":{"field":"s","oneOf":["2002","1994"]}}],"mark":{"type":"line","color":"black","strokeWidth":1},"encoding":{"strokeDash":{"field":"s","type":"nominal","scale":{"domain":["2002","1994"],"range":[[1,0],[4,3]]},"legend":{"title":null}}}},
   {"transform":[{"filter":{"field":"s","equal":"2002"}},{"filter":{"field":"x","range":[3.45,14.15]}}],"mark":{"type":"line","color":"black","strokeWidth":3}},
   {"transform":[{"filter":{"field":"s","equal":"v"}}],"mark":{"type":"rule","color":"#444","strokeWidth":1.2},"encoding":{"y":{"datum":0},"y2":{"datum":10}}},
   {"transform":[{"filter":{"field":"s","equal":"v"}}],"mark":{"type":"circle","color":"black","size":40,"opacity":1}},
   {"transform":[{"filter":{"field":"s","equal":"t"}}],"mark":{"type":"text"},"encoding":{"text":{"field":"t"}}}
  ]},
 {"title":{"text":"ɪ"},"width":212,"height":212,"data":{"name":"I"},
  "encoding":{"x":{"field":"x","type":"quantitative","scale":{"domain":[0,20]},"axis":{"title":"Distance from Glottis (cm)","tickCount":10}},"y":{"field":"a","type":"quantitative","scale":{"domain":[0,10]},"axis":{"title":"Area (cm²)","tickCount":10}}},
  "layer":[
   {"transform":[{"filter":{"field":"s","oneOf":["2002","1994"]}}],"mark":{"type":"line","color":"black","strokeWidth":1},"encoding":{"strokeDash":{"field":"s","type":"nominal","scale":{"domain":["2002","1994"],"range":[[1,0],[4,3]]},"legend":{"title":null}}}},
   {"transform":[{"filter":{"field":"s","equal":"2002"}},{"filter":{"field":"x","range":[3.39,14.3]}}],"mark":{"type":"line","color":"black","strokeWidth":3}},
   {"transform":[{"filter":{"field":"s","equal":"v"}}],"mark":{"type":"rule","color":"#444","strokeWidth":1.2},"encoding":{"y":{"datum":0},"y2":{"datum":10}}},
   {"transform":[{"filter":{"field":"s","equal":"v"}}],"mark":{"type":"circle","color":"black","size":40,"opacity":1}},
   {"transform":[{"filter":{"field":"s","equal":"t"}}],"mark":{"type":"text"},"encoding":{"text":{"field":"t"}}}
  ]},
 {"title":{"text":"e"},"width":212,"height":212,"data":{"name":"e"},
  "encoding":{"x":{"field":"x","type":"quantitative","scale":{"domain":[0,20]},"axis":{"title":"Distance from Glottis (cm)","tickCount":10}},"y":{"field":"a","type":"quantitative","scale":{"domain":[0,10]},"axis":{"title":"Area (cm²)","tickCount":10}}},
  "layer":[
   {"transform":[{"filter":{"field":"s","oneOf":["2002","1994"]}}],"mark":{"type":"line","color":"black","strokeWidth":1},"encoding":{"strokeDash":{"field":"s","type":"nominal","scale":{"domain":["2002"],"range":[[1,0]]},"legend":{"title":null}}}},
   {"transform":[{"filter":{"field":"s","equal":"2002"}},{"filter":{"field":"x","range":[3.47,15.46]}}],"mark":{"type":"line","color":"black","strokeWidth":3}},
   {"transform":[{"filter":{"field":"s","equal":"v"}}],"mark":{"type":"rule","color":"#444","strokeWidth":1.2},"encoding":{"y":{"datum":0},"y2":{"datum":10}}},
   {"transform":[{"filter":{"field":"s","equal":"v"}}],"mark":{"type":"circle","color":"black","size":40,"opacity":1}},
   {"transform":[{"filter":{"field":"s","equal":"t"}}],"mark":{"type":"text"},"encoding":{"text":{"field":"t"}}}
  ]}
 ],"spacing":17,"bounds":"full","resolve":{"scale":{"x":"independent","y":"independent","strokeDash":"independent"},"legend":{"strokeDash":"independent"}}},
{"width":785,"height":23,"data":{"values":[{}]},"mark":{"type":"rule","color":"black","strokeWidth":1.5},"encoding":{"y":{"datum":0.33,"type":"quantitative","scale":{"domain":[0,1]},"axis":null}}},
{"hconcat":[
 {"title":{"text":"ɛ"},"width":212,"height":212,"data":{"name":"E"},
  "encoding":{"x":{"field":"x","type":"quantitative","scale":{"domain":[0,20]},"axis":{"title":"Distance from Glottis (cm)","tickCount":10}},"y":{"field":"a","type":"quantitative","scale":{"domain":[0,10]},"axis":{"title":"Area (cm²)","tickCount":10}}},
  "layer":[
   {"transform":[{"filter":{"field":"s","oneOf":["2002","1994"]}}],"mark":{"type":"line","color":"black","strokeWidth":1},"encoding":{"strokeDash":{"field":"s","type":"nominal","scale":{"domain":["2002","1994"],"range":[[1,0],[4,3]]},"legend":{"title":null}}}},
   {"transform":[{"filter":{"field":"s","equal":"2002"}},{"filter":{"field":"x","range":[3.92,15.74]}}],"mark":{"type":"line","color":"black","strokeWidth":3}},
   {"transform":[{"filter":{"field":"s","equal":"v"}}],"mark":{"type":"rule","color":"#444","strokeWidth":1.2},"encoding":{"y":{"datum":0},"y2":{"datum":10}}},
   {"transform":[{"filter":{"field":"s","equal":"v"}}],"mark":{"type":"circle","color":"black","size":40,"opacity":1}},
   {"transform":[{"filter":{"field":"s","equal":"t"}}],"mark":{"type":"text"},"encoding":{"text":{"field":"t"}}}
  ]},
 {"title":{"text":"æ"},"width":212,"height":212,"data":{"name":"ae"},
  "encoding":{"x":{"field":"x","type":"quantitative","scale":{"domain":[0,20]},"axis":{"title":"Distance from Glottis (cm)","tickCount":10}},"y":{"field":"a","type":"quantitative","scale":{"domain":[0,10]},"axis":{"title":"Area (cm²)","tickCount":10}}},
  "layer":[
   {"transform":[{"filter":{"field":"s","oneOf":["2002","1994"]}}],"mark":{"type":"line","color":"black","strokeWidth":1},"encoding":{"strokeDash":{"field":"s","type":"nominal","scale":{"domain":["2002","1994"],"range":[[1,0],[4,3]]},"legend":{"title":null}}}},
   {"transform":[{"filter":{"field":"s","equal":"2002"}},{"filter":{"field":"x","range":[3.64,14.26]}}],"mark":{"type":"line","color":"black","strokeWidth":3}},
   {"transform":[{"filter":{"field":"s","equal":"v"}}],"mark":{"type":"rule","color":"#444","strokeWidth":1.2},"encoding":{"y":{"datum":0},"y2":{"datum":10}}},
   {"transform":[{"filter":{"field":"s","equal":"v"}}],"mark":{"type":"circle","color":"black","size":40,"opacity":1}},
   {"transform":[{"filter":{"field":"s","equal":"t"}}],"mark":{"type":"text"},"encoding":{"text":{"field":"t"}}}
  ]},
 {"title":{"text":"ʌ"},"width":212,"height":212,"data":{"name":"V"},
  "encoding":{"x":{"field":"x","type":"quantitative","scale":{"domain":[0,20]},"axis":{"title":"Distance from Glottis (cm)","tickCount":10}},"y":{"field":"a","type":"quantitative","scale":{"domain":[0,10]},"axis":{"title":"Area (cm²)","tickCount":10}}},
  "layer":[
   {"transform":[{"filter":{"field":"s","oneOf":["2002","1994"]}}],"mark":{"type":"line","color":"black","strokeWidth":1},"encoding":{"strokeDash":{"field":"s","type":"nominal","scale":{"domain":["2002","1994"],"range":[[1,0],[4,3]]},"legend":{"title":null}}}},
   {"transform":[{"filter":{"field":"s","equal":"2002"}},{"filter":{"field":"x","range":[4.26,15.24]}}],"mark":{"type":"line","color":"black","strokeWidth":3}},
   {"transform":[{"filter":{"field":"s","equal":"v"}}],"mark":{"type":"rule","color":"#444","strokeWidth":1.2},"encoding":{"y":{"datum":0},"y2":{"datum":10}}},
   {"transform":[{"filter":{"field":"s","equal":"v"}}],"mark":{"type":"circle","color":"black","size":40,"opacity":1}},
   {"transform":[{"filter":{"field":"s","equal":"t"}}],"mark":{"type":"text"},"encoding":{"text":{"field":"t"}}}
  ]}
 ],"spacing":17,"bounds":"full","resolve":{"scale":{"x":"independent","y":"independent","strokeDash":"independent"},"legend":{"strokeDash":"independent"}}},
{"width":785,"height":29,"data":{"values":[{}]},"mark":{"type":"rule","color":"black","strokeWidth":1.5},"encoding":{"y":{"datum":0.41,"type":"quantitative","scale":{"domain":[0,1]},"axis":null}}},
{"hconcat":[
 {"vconcat":[
  {"width":1,"height":14,"data":{"values":[]},"mark":{"type":"rule"},"encoding":{}},
  {"title":{"text":"ɑ","offset":6},"width":209,"height":202,"data":{"name":"A"},
  "encoding":{"x":{"field":"x","type":"quantitative","scale":{"domain":[0,20]},"axis":{"title":"Distance from Glottis (cm)","tickCount":10}},"y":{"field":"a","type":"quantitative","scale":{"domain":[0,10]},"axis":{"title":"Area (cm²)","tickCount":10}}},
  "layer":[
   {"transform":[{"filter":{"field":"s","oneOf":["2002","1994"]}}],"mark":{"type":"line","color":"black","strokeWidth":1},"encoding":{"strokeDash":{"field":"s","type":"nominal","scale":{"domain":["2002","1994"],"range":[[1,0],[4,3]]},"legend":{"title":null}}}},
   {"transform":[{"filter":{"field":"s","equal":"2002"}},{"filter":{"field":"x","range":[3.47,14.4]}}],"mark":{"type":"line","color":"black","strokeWidth":3}},
   {"transform":[{"filter":{"field":"s","equal":"v"}}],"mark":{"type":"rule","color":"#444","strokeWidth":1.2},"encoding":{"y":{"datum":0},"y2":{"datum":10}}},
   {"transform":[{"filter":{"field":"s","equal":"v"}}],"mark":{"type":"circle","color":"black","size":40,"opacity":1}},
   {"transform":[{"filter":{"field":"s","equal":"t"}}],"mark":{"type":"text"},"encoding":{"text":{"field":"t"}}}
  ]}],"spacing":0,"bounds":"flush","resolve":{"scale":{"x":"independent","y":"independent","strokeDash":"independent"},"legend":{"strokeDash":"independent"}}},
 {"vconcat":[
  {"width":1,"height":15,"data":{"values":[]},"mark":{"type":"rule"},"encoding":{}},
  {"title":{"text":"ɔ","offset":7},"width":201,"height":201,"data":{"name":"O"},
  "encoding":{"x":{"field":"x","type":"quantitative","scale":{"domain":[0,20]},"axis":{"title":"Distance from Glottis (cm)","tickCount":10}},"y":{"field":"a","type":"quantitative","scale":{"domain":[0,10]},"axis":{"title":"Area (cm²)","tickCount":10}}},
  "layer":[
   {"transform":[{"filter":{"field":"s","oneOf":["2002","1994"]}}],"mark":{"type":"line","color":"black","strokeWidth":1},"encoding":{"strokeDash":{"field":"s","type":"nominal","scale":{"domain":["2002","1994"],"range":[[1,0],[4,3]]},"legend":{"title":null}}}},
   {"transform":[{"filter":{"field":"s","equal":"2002"}},{"filter":{"field":"x","range":[4.3,15.4]}}],"mark":{"type":"line","color":"black","strokeWidth":3}},
   {"transform":[{"filter":{"field":"s","equal":"v"}}],"mark":{"type":"rule","color":"#444","strokeWidth":1.2},"encoding":{"y":{"datum":0},"y2":{"datum":10}}},
   {"transform":[{"filter":{"field":"s","equal":"v"}}],"mark":{"type":"circle","color":"black","size":40,"opacity":1}},
   {"transform":[{"filter":{"field":"s","equal":"t"}}],"mark":{"type":"text"},"encoding":{"text":{"field":"t"}}}
  ]}],"spacing":0,"bounds":"flush","resolve":{"scale":{"x":"independent","y":"independent","strokeDash":"independent"},"legend":{"strokeDash":"independent"}}},
 {"title":{"text":"o","offset":7},"width":212,"height":212,"data":{"name":"o"},
  "encoding":{"x":{"field":"x","type":"quantitative","scale":{"domain":[0,20]},"axis":{"title":"Distance from Glottis (cm)","tickCount":10}},"y":{"field":"a","type":"quantitative","scale":{"domain":[0,10]},"axis":{"title":"Area (cm²)","tickCount":10}}},
  "layer":[
   {"transform":[{"filter":{"field":"s","oneOf":["2002","1994"]}}],"mark":{"type":"line","color":"black","strokeWidth":1},"encoding":{"strokeDash":{"field":"s","type":"nominal","scale":{"domain":["2002","1994"],"range":[[1,0],[4,3]]},"legend":{"title":null}}}},
   {"transform":[{"filter":{"field":"s","equal":"2002"}},{"filter":{"field":"x","range":[4.1,17.16]}}],"mark":{"type":"line","color":"black","strokeWidth":3}},
   {"transform":[{"filter":{"field":"s","equal":"v"}}],"mark":{"type":"rule","color":"#444","strokeWidth":1.2},"encoding":{"y":{"datum":0},"y2":{"datum":10}}},
   {"transform":[{"filter":{"field":"s","equal":"v"}}],"mark":{"type":"circle","color":"black","size":40,"opacity":1}},
   {"transform":[{"filter":{"field":"s","equal":"t"}}],"mark":{"type":"text"},"encoding":{"text":{"field":"t"}}}
  ]}
 ],"spacing":24,"bounds":"full","resolve":{"scale":{"x":"independent","y":"independent","strokeDash":"independent"},"legend":{"strokeDash":"independent"}}},
{"width":785,"height":29,"data":{"values":[{}]},"mark":{"type":"rule","color":"black","strokeWidth":1.5},"encoding":{"y":{"datum":0.55,"type":"quantitative","scale":{"domain":[0,1]},"axis":null}}},
{"hconcat":[
 {"title":{"text":"ʊ","offset":9},"width":212,"height":212,"data":{"name":"U"},
  "encoding":{"x":{"field":"x","type":"quantitative","scale":{"domain":[0,20]},"axis":{"title":"Distance from Glottis (cm)","tickCount":10}},"y":{"field":"a","type":"quantitative","scale":{"domain":[0,10]},"axis":{"title":"Area (cm²)","tickCount":10}}},
  "layer":[
   {"transform":[{"filter":{"field":"s","oneOf":["2002","1994"]}}],"mark":{"type":"line","color":"black","strokeWidth":1},"encoding":{"strokeDash":{"field":"s","type":"nominal","scale":{"domain":["2002","1994"],"range":[[1,0],[4,3]]},"legend":{"title":null}}}},
   {"transform":[{"filter":{"field":"s","equal":"2002"}},{"filter":{"field":"x","range":[6.58,18.03]}}],"mark":{"type":"line","color":"black","strokeWidth":3}},
   {"transform":[{"filter":{"field":"s","equal":"v"}}],"mark":{"type":"rule","color":"#444","strokeWidth":1.2},"encoding":{"y":{"datum":0},"y2":{"datum":10}}},
   {"transform":[{"filter":{"field":"s","equal":"v"}}],"mark":{"type":"circle","color":"black","size":40,"opacity":1}},
   {"transform":[{"filter":{"field":"s","equal":"t"}}],"mark":{"type":"text"},"encoding":{"text":{"field":"t"}}}
  ]},
 {"title":{"text":"u","offset":9},"width":212,"height":212,"data":{"name":"u"},
  "encoding":{"x":{"field":"x","type":"quantitative","scale":{"domain":[0,20]},"axis":{"title":"Distance from Glottis (cm)","tickCount":10}},"y":{"field":"a","type":"quantitative","scale":{"domain":[0,10]},"axis":{"title":"Area (cm²)","tickCount":10}}},
  "layer":[
   {"transform":[{"filter":{"field":"s","oneOf":["2002","1994"]}}],"mark":{"type":"line","color":"black","strokeWidth":1},"encoding":{"strokeDash":{"field":"s","type":"nominal","scale":{"domain":["2002","1994"],"range":[[1,0],[4,3]]},"legend":{"title":null}}}},
   {"transform":[{"filter":{"field":"s","equal":"2002"}},{"filter":{"field":"x","range":[8.03,18.28]}}],"mark":{"type":"line","color":"black","strokeWidth":3}},
   {"transform":[{"filter":{"field":"s","equal":"v"}}],"mark":{"type":"rule","color":"#444","strokeWidth":1.2},"encoding":{"y":{"datum":0},"y2":{"datum":10}}},
   {"transform":[{"filter":{"field":"s","equal":"v"}}],"mark":{"type":"circle","color":"black","size":40,"opacity":1}},
   {"transform":[{"filter":{"field":"s","equal":"t"}}],"mark":{"type":"text"},"encoding":{"text":{"field":"t"}}}
  ]},
 {"title":{"text":"mean","font":"Liberation Sans","fontSize":23,"offset":11},"width":212,"height":212,"data":{"name":"mean"},
  "encoding":{"x":{"field":"x","type":"quantitative","scale":{"domain":[0,20]},"axis":{"title":"Distance from Glottis (cm)","tickCount":10}},"y":{"field":"a","type":"quantitative","scale":{"domain":[0,10]},"axis":{"title":"Area (cm²)","tickCount":10}}},
  "layer":[
   {"transform":[{"filter":{"field":"s","oneOf":["2002","1994"]}}],"mark":{"type":"line","color":"black","strokeWidth":1},"encoding":{"strokeDash":{"field":"s","type":"nominal","scale":{"domain":["2002","1994"],"range":[[1,0],[4,3]]},"legend":{"title":null,"labelExpr":"datum.label == '2002' ? '2002: [F1,F2] = [610, 1325] Hz' : '1994: [F1,F2] = [631, 1526] Hz'"}}}},
   {"transform":[{"filter":{"field":"s","equal":"2002"}},{"filter":{"field":"x","range":[3.94,16.0]}}],"mark":{"type":"line","color":"black","strokeWidth":3}},
   {"transform":[{"filter":{"field":"s","equal":"v"}}],"mark":{"type":"rule","color":"#444","strokeWidth":1.2},"encoding":{"y":{"datum":0},"y2":{"datum":10}}},
   {"transform":[{"filter":{"field":"s","equal":"v"}}],"mark":{"type":"circle","color":"black","size":40,"opacity":1}},
   {"transform":[{"filter":{"field":"s","equal":"t"}}],"mark":{"type":"text"},"encoding":{"text":{"field":"t"}}}
  ]}
 ],"spacing":17,"bounds":"full","resolve":{"scale":{"x":"independent","y":"independent","strokeDash":"independent"},"legend":{"strokeDash":"independent"}}}
]
}
